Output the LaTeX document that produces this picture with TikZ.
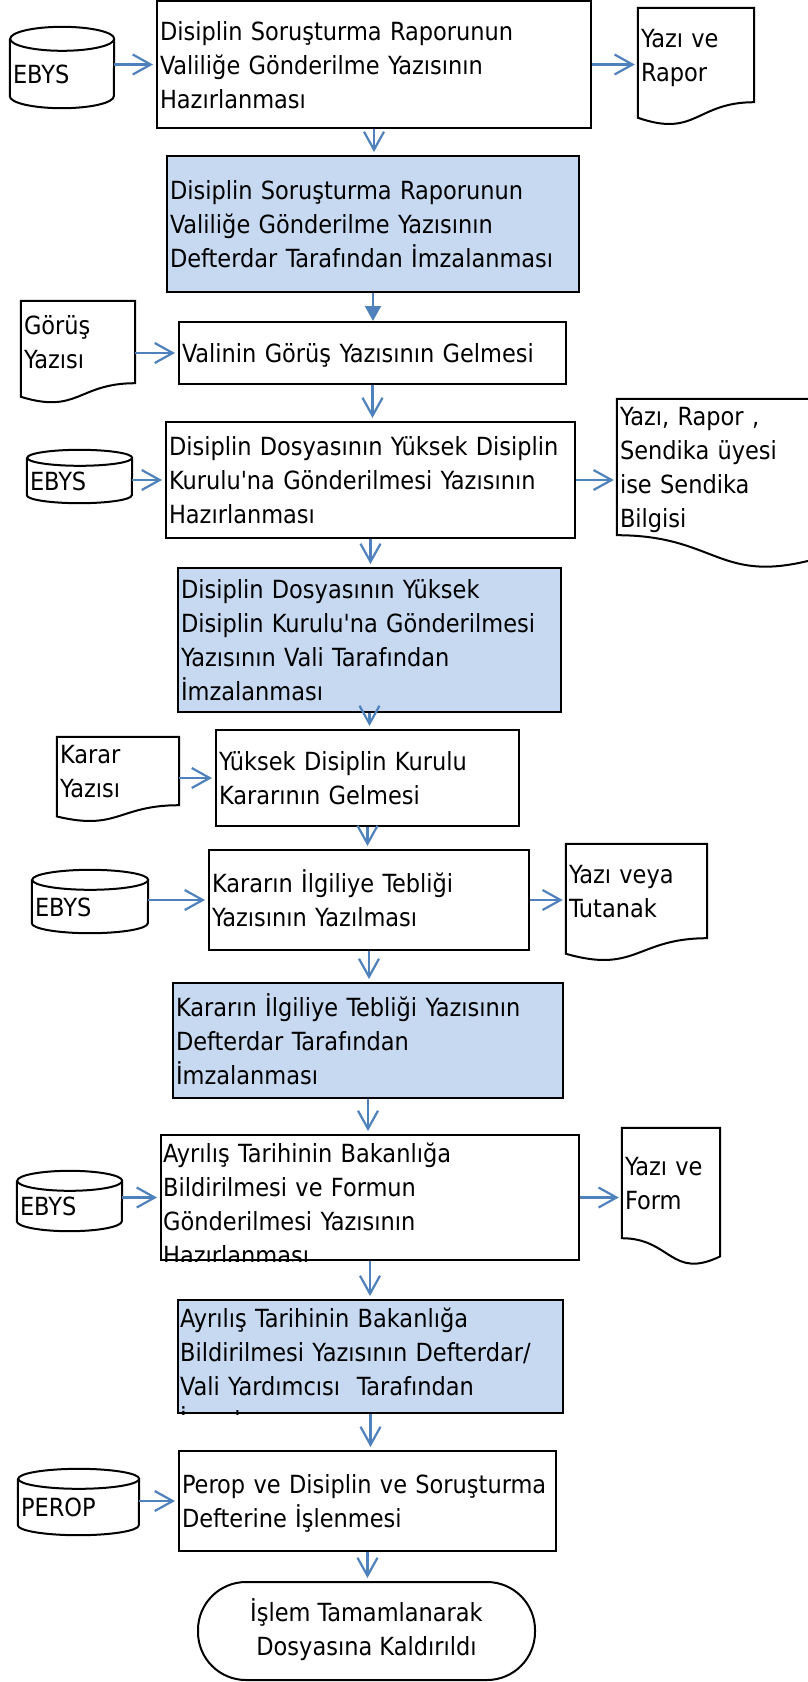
\documentclass[tikz,border=0pt]{standalone}
\usepackage{fontspec}
\setmainfont{DejaVu Sans Condensed}
\usetikzlibrary{arrows.meta,calc}
\definecolor{boxblue}{HTML}{C6D9F1}
\definecolor{arrblue}{HTML}{4F81BD}
\newcommand\lstrut{\rule[-7.5pt]{0pt}{34pt}}
\tikzset{
  txt/.style={inner xsep=3pt,inner ysep=0pt,align=left,font=\fontsize{25}{34}\selectfont,
    execute at begin node=\lstrut,execute at end node=\lstrut},
  box/.style={txt,draw=black,line width=2pt},
  sbox/.style={box,fill=boxblue},
  term/.style={draw=black,line width=2pt,rounded corners=48pt,inner sep=0pt,align=center,
    font=\fontsize{25}{34}\selectfont,execute at begin node=\lstrut,execute at end node=\lstrut},
  outl/.style={draw=black,line width=2pt},
  arr/.style={arrblue,line width=2.2pt,-{Straight Barb[length=18pt,width=20pt]},shorten >=3pt},
  farr/.style={arrblue,line width=2.2pt,-{Triangle[length=15pt,width=16pt]}}
}
\begin{document}
\begin{tikzpicture}[x=1pt,y=-1pt]
\useasboundingbox (0,0) rectangle (807,1682);

\node[box,text width=428pt,minimum height=127pt] (yazi1) at (374,64.5)
  {Disiplin Soruşturma Raporunun\\Valiliğe Gönderilme Yazısının\\Hazırlanması};
\node[sbox,text width=406pt,minimum height=136pt] (imza1) at (373,224)
  {Disiplin Soruşturma Raporunun\\Valiliğe Gönderilme Yazısının\\Defterdar Tarafından İmzalanması};
\node[box,text width=381pt,minimum height=62pt] (gorus) at (372.5,353)
  {Valinin Görüş Yazısının Gelmesi};
\node[box,text width=403pt,minimum height=116pt] (yazi2) at (370.5,480)
  {Disiplin Dosyasının Yüksek Disiplin\\Kurulu\textquotesingle na Gönderilmesi Yazısının\\Hazırlanması};
\node[sbox,text width=377pt,minimum height=144pt] (imza2) at (369.5,640)
  {Disiplin Dosyasının Yüksek\\Disiplin Kurulu\textquotesingle na Gönderilmesi\\Yazısının Vali Tarafından\\İmzalanması};
\node[box,text width=297pt,minimum height=96pt] (karar) at (367.5,778)
  {Yüksek Disiplin Kurulu\\Kararının Gelmesi};
\node[box,text width=314pt,minimum height=100pt] (teblig) at (369,900)
  {Kararın İlgiliye Tebliği\\Yazısının Yazılması};
\node[sbox,text width=384pt,minimum height=115pt] (imza3) at (368,1040.5)
  {Kararın İlgiliye Tebliği Yazısının\\Defterdar Tarafından\\İmzalanması};
\node[box,text width=412pt,minimum height=125pt] (ayrilis) at (370,1197.5) {};
\begin{scope}
\clip (ayrilis.north west) rectangle (ayrilis.south east);
\node[txt,text width=412pt,anchor=north west,inner ysep=1.5pt] (ayrilist) at (ayrilis.north west)
  {Ayrılış Tarihinin Bakanlığa\\Bildirilmesi ve Formun\\Gönderilmesi Yazısının\\Hazırlanması};
\end{scope}
\node[sbox,text width=379pt,minimum height=113pt] (imza4) at (370.5,1356.5) {};
\begin{scope}
\clip (imza4.north west) rectangle (imza4.south east);
\node[txt,text width=379pt,anchor=north west,inner ysep=1.5pt] (imza4t) at (imza4.north west)
  {Ayrılış Tarihinin Bakanlığa\\Bildirilmesi Yazısının Defterdar/\\Vali Yardımcısı~ Tarafından\\İmzalanması};
\end{scope}
\node[box,text width=371pt,minimum height=100pt] (perop) at (367.5,1501)
  {Perop ve Disiplin ve Soruşturma\\Defterine İşlenmesi};
\node[term,minimum width=337pt,minimum height=98pt] (son) at (366.5,1631)
  {İşlem Tamamlanarak\\Dosyasına Kaldırıldı};

\node[txt,text width=98pt,minimum height=69pt] (ebys1) at (62,73.5) {EBYS};
\node[txt,text width=99pt,minimum height=45pt] (ebys2) at (79.5,480.5) {EBYS};
\node[txt,text width=110pt,minimum height=53pt] (ebys3) at (90,906.5) {EBYS};
\node[txt,text width=99pt,minimum height=50pt] (ebys4) at (69.5,1206) {EBYS};
\node[txt,text width=115pt,minimum height=56pt] (pdb) at (78.5,1507) {PEROP};

\node[txt,text width=110pt,minimum height=94pt] (rdoc) at (696,55) {Yazı ve\\Rapor};
\node[txt,text width=108pt,minimum height=82pt] (gdoc) at (78,342) {Görüş\\Yazısı};
\node[txt,text width=197pt,minimum height=130pt] (sdoc) at (718.5,467)
  {Yazı, Rapor ,\\Sendika üyesi\\ise Sendika\\Bilgisi};
\node[txt,text width=116pt,minimum height=64pt] (kdoc) at (118,771) {Karar\\Yazısı};
\node[txt,text width=135pt,minimum height=94pt] (tdoc) at (636.5,891) {Yazı veya\\Tutanak};
\node[txt,text width=92pt,minimum height=110pt] (fdoc) at (671,1183) {Yazı ve\\Form};

\foreach \c/\r/\e in {ebys1/52/12,ebys2/52.5/8,ebys3/58/10,ebys4/52.5/10,pdb/60.5/10}
\draw[outl] (\c.north west) -- ($(\c.south west)+(0,-\e)$)
  arc[start angle=180,end angle=0,x radius=\r,y radius=\e] -- (\c.north east)
  arc[start angle=0,end angle=-180,x radius=\r,y radius=\e]
  arc[start angle=180,end angle=0,x radius=\r,y radius=\e];

\foreach \nd in {rdoc,gdoc,kdoc,tdoc}
\draw[outl] (\nd.north west) -- (\nd.north east) -- (\nd.south east)
  .. controls (\nd.south) and ($(\nd.north)!1.38!(\nd.south)$) .. ($(\nd.north west)!1.1646!(\nd.south west)$) -- cycle;
\foreach \nd in {sdoc,fdoc}
\draw[outl] (\nd.north east) -- (\nd.north west) -- (\nd.south west)
  .. controls (\nd.south) and ($(\nd.north)!1.38!(\nd.south)$) .. ($(\nd.north east)!1.1646!(\nd.south east)$) -- cycle;

\foreach \a/\b in {yazi1/imza1,gorus/yazi2,yazi2/imza2,imza2/karar,karar/teblig,teblig/imza3,imza3/ayrilis,ayrilis/imza4,imza4/perop,perop/son}
\draw[arr] (\a.south) -- (\a.south |- \b.north);
\draw[farr] (imza1.south) -- (imza1.south |- gorus.north);

\foreach \a/\b in {ebys1/yazi1,gdoc/gorus,ebys2/yazi2,kdoc/karar,ebys3/teblig,ebys4/ayrilis,pdb/perop}
\draw[arr] (\a.east |- \b.west) -- (\b.west);
\foreach \a/\b in {yazi1/rdoc,yazi2/sdoc,teblig/tdoc,ayrilis/fdoc}
\draw[arr] (\a.east) -- (\a.east -| \b.west);
\end{tikzpicture}
\end{document}
